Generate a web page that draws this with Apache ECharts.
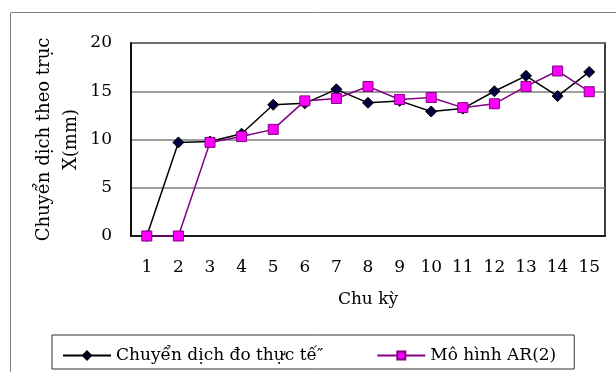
<!DOCTYPE html>
<html>
<head>
    <meta charset="utf-8">
    <title>Chuyen dich</title>
    <script src="https://cdn.jsdelivr.net/npm/echarts@6/dist/echarts.min.js"></script>
    <style>
        html, body { margin: 0; padding: 0; background: #fff; }
    </style>
</head>
<body>
    <div id="main" style="width: 616px;height:372px;"></div>
    <script type="text/javascript">
        // data
        var cycles = ['1', '2', '3', '4', '5', '6', '7', '8', '9', '10', '11', '12', '13', '14', '15'];
        var measured = [0, 9.7, 9.8, 10.6, 13.6, 13.75, 15.2, 13.8, 14.0, 12.9, 13.2, 15.0, 16.6, 14.5, 17.0];
        var arModel = [0, 0, 9.7, 10.3, 11.05, 14.0, 14.25, 15.5, 14.15, 14.35, 13.3, 13.7, 15.5, 17.1, 14.95];
        var seriesNames = ['Chuyển dịch đo thực tế″', 'Mô hình AR(2)'];

        var font = 'DejaVu Serif';
        var myChart = echarts.init(document.getElementById('main'));
        var option = {
            backgroundColor: '#fff',
            animation: false,
            graphic: [{
                type: 'rect',
                left: 8, top: 10,
                shape: { width: 620, height: 400 },
                style: { fill: 'none', stroke: '#808080', lineWidth: 1 }
            }],
            grid: {
                left: 131, right: 11, top: 43, bottom: 136,
                show: true,
                borderColor: '#000',
                borderWidth: 1.5
            },
            legend: {
                left: 52, top: 335,
                padding: [12, 18, 5, 10],
                borderColor: '#333',
                borderWidth: 1,
                itemWidth: 48,
                itemHeight: 10,
                itemGap: 53,
                textStyle: { fontFamily: font, fontSize: 17, color: '#000' },
                data: seriesNames
            },
            xAxis: {
                type: 'category',
                data: cycles,
                boundaryGap: true,
                name: 'Chu kỳ',
                nameLocation: 'middle',
                nameGap: 55,
                nameTextStyle: { fontFamily: font, fontSize: 17, color: '#000' },
                axisLine: { lineStyle: { color: '#000', width: 1.5 } },
                axisTick: { inside: true, length: 5, lineStyle: { color: '#000' } },
                axisLabel: { margin: 23, fontFamily: font, fontSize: 17, color: '#000' }
            },
            yAxis: {
                type: 'value',
                min: 0, max: 20, interval: 5,
                name: 'Chuyển dịch theo trục\nX(mm)',
                nameLocation: 'middle',
                nameGap: 46,
                nameMoveOverlap: false,
                nameRotate: 90,
                nameTextStyle: { fontFamily: font, fontSize: 18, color: '#000', lineHeight: 27 },
                axisLine: { show: true, lineStyle: { color: '#000', width: 1.5 } },
                axisTick: { show: false },
                axisLabel: { margin: 19, fontFamily: font, fontSize: 17, color: '#000' },
                splitLine: { lineStyle: { color: '#808080', width: 1.5 } }
            },
            series: [{
                name: seriesNames[0],
                type: 'line',
                data: measured,
                symbol: 'diamond',
                symbolSize: 11,
                lineStyle: { color: '#000', width: 1.5 },
                itemStyle: { color: '#000040', borderColor: '#000', borderWidth: 1 }
            }, {
                name: seriesNames[1],
                type: 'line',
                data: arModel,
                symbol: 'rect',
                symbolSize: 10,
                lineStyle: { color: '#800080', width: 1.5 },
                itemStyle: { color: '#ff00ff', borderColor: '#800080', borderWidth: 1 }
            }]
        };
        myChart.setOption(option);
    </script>
</body>
</html>
